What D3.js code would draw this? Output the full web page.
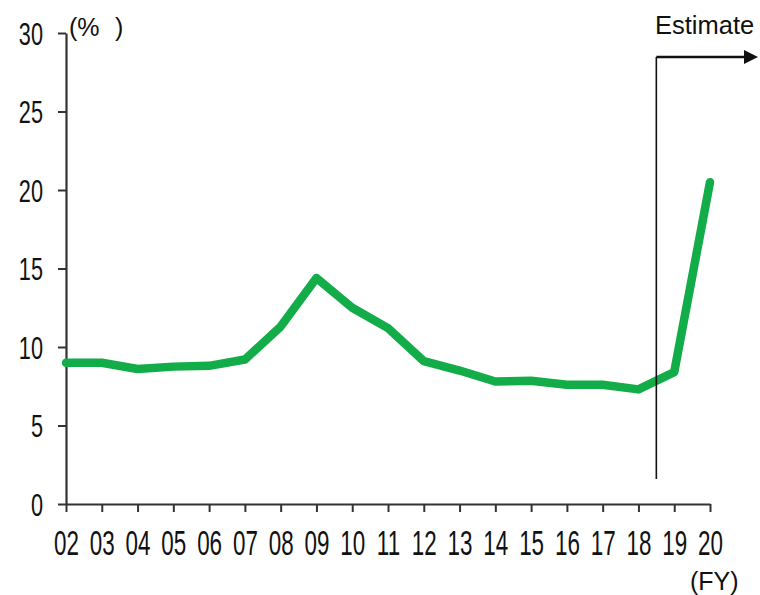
<html>
<head>
    <title>Ratio chart</title>
    <script src="https://d3js.org/d3.v7.min.js"></script>
    <style>
        body { margin: 0; background: #fff; }
        text { font-family: Arial, "Liberation Sans", sans-serif; fill: #111; }
    </style>
</head>
<body>
    <svg id="chart"></svg>
    <script>
        // fiscal years and values (%)
        var years = [2, 3, 4, 5, 6, 7, 8, 9, 10, 11, 12, 13, 14, 15, 16, 17, 18, 19, 20];
        var values = [9.0, 9.0, 8.6, 8.75, 8.8, 9.2, 11.3, 14.4, 12.5, 11.2, 9.1, 8.5, 7.8, 7.85, 7.6, 7.6, 7.3, 8.4, 20.5];
        var yTicks = [0, 5, 10, 15, 20, 25, 30];
        var estimateFrom = 18.5;

        var width = 760, height = 595;
        var plotLeft = 66, plotRight = 710, plotTop = 33, plotBottom = 504;

        var svg = d3.select("#chart").attr("width", width).attr("height", height);

        var x = d3.scaleLinear().domain([2, 20]).range([plotLeft, plotRight]);
        var y = d3.scaleLinear().domain([0, 30]).range([plotBottom, plotTop]);

        // y axis
        var gy = svg.append("g")
            .attr("transform", "translate(" + plotLeft + ",0)")
            .call(d3.axisLeft(y).tickValues(yTicks).tickSize(8).tickSizeOuter(0));
        gy.select(".domain").attr("stroke", "#333").attr("stroke-width", 2.2);
        gy.selectAll(".tick line").attr("stroke", "#333").attr("stroke-width", 2);
        gy.selectAll(".tick text")
            .attr("x", 0).attr("dy", "0.36em")
            .attr("transform", "translate(-23,0) scale(0.7,1)")
            .style("font-size", "31px")
            .attr("fill", "#1c1c2a");

        // x axis
        var gx = svg.append("g")
            .attr("transform", "translate(0," + plotBottom + ")")
            .call(d3.axisBottom(x).tickValues(years).tickSize(8).tickSizeOuter(0)
                .tickFormat(function (d) { return d3.format("02d")(d); }));
        gx.select(".domain").attr("stroke", "#333").attr("stroke-width", 2.2);
        gx.selectAll(".tick line").attr("stroke", "#333").attr("stroke-width", 2);
        gx.selectAll(".tick text")
            .attr("y", 0).attr("dy", 0)
            .attr("transform", "translate(0,51) scale(0.64,1)")
            .style("font-size", "35px")
            .attr("fill", "#1c1c2a");

        // data line
        var line = d3.line()
            .x(function (d, i) { return x(years[i]); })
            .y(function (d) { return y(d); });
        svg.append("path")
            .datum(values)
            .attr("d", line)
            .attr("fill", "none")
            .attr("stroke", "#12ac48")
            .attr("stroke-width", 8.5)
            .attr("stroke-linejoin", "round")
            .attr("stroke-linecap", "round");

        // estimate marker
        var ex = x(estimateFrom);
        svg.append("line")
            .attr("x1", ex).attr("x2", ex)
            .attr("y1", 57).attr("y2", 479)
            .attr("stroke", "#111").attr("stroke-width", 1.6);
        svg.append("line")
            .attr("x1", ex).attr("x2", 746)
            .attr("y1", 57).attr("y2", 57)
            .attr("stroke", "#111").attr("stroke-width", 2.4);
        svg.append("path")
            .attr("d", "M744,50 L758,57 L744,64 Z")
            .attr("fill", "#111");
        svg.append("text")
            .attr("x", 655).attr("y", 34)
            .style("font-size", "25.5px")
            .attr("fill", "#000")
            .text("Estimate");

        // unit labels
        var unit = svg.append("text")
            .attr("y", 36)
            .style("font-size", "25px");
        unit.append("tspan").attr("x", 69).text("(%");
        unit.append("tspan").attr("x", 115).text(")");
        svg.append("text")
            .attr("x", 690).attr("y", 590)
            .style("font-size", "25px")
            .text("(FY)");
    </script>
</body>
</html>
